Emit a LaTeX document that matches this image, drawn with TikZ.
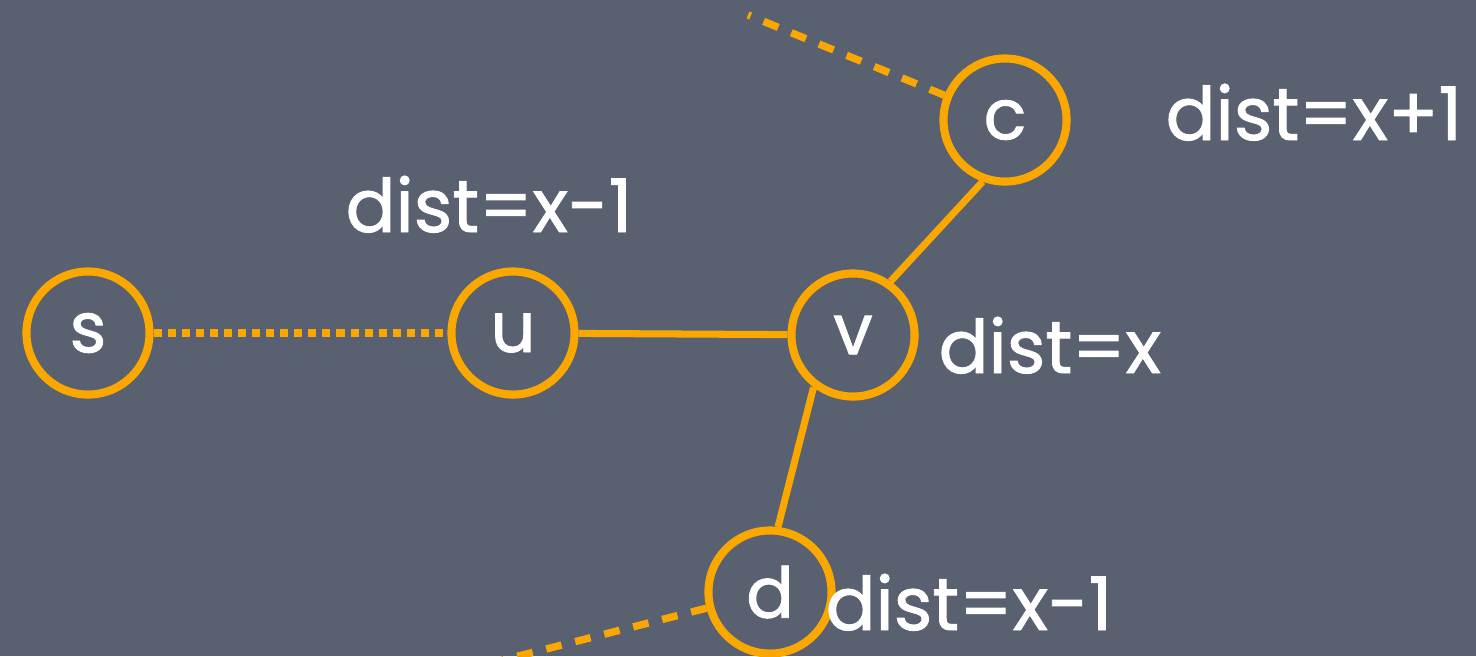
\documentclass[tikz,border=0pt]{standalone}
\usepackage{fontspec}
\setmainfont{Poppins}
\newfontfamily\chalkfont{Poppins}[FakeBold=1.2]
\usetikzlibrary{positioning}
\definecolor{slate}{RGB}{89,97,112}
\definecolor{vorange}{RGB}{250,168,0}

\begin{document}
\begin{tikzpicture}[
    x=0.01cm, y=-0.01cm,
    vertex/.style={draw=vorange, circle, line width=2.3pt, minimum size=1.23cm, inner sep=0pt, text=white, font=\chalkfont\fontsize{20}{24}\selectfont},
    edge/.style={draw=vorange, line width=2pt},
    dottededge/.style={draw=vorange, line width=2.3pt, dash pattern=on 2.3pt off 1.7pt},
    dashededge/.style={draw=vorange, line width=2.1pt, dash pattern=on 4.5pt off 4pt},
    distlabel/.style={anchor=base west, inner sep=0pt, text=white, font=\chalkfont\fontsize{21}{25}\selectfont}
]

\fill[slate] (0,0) rectangle (1476,656);
\useasboundingbox (0,0) rectangle (1476,656);

\node[vertex] (s) at (88,333) {s};
\node[vertex] (u) at (513,333) {u};
\node[vertex] (v) at (853,335) {v};
\node[vertex] (c) at (1005,120) {c};
\node[vertex] (d) at (770,592) {d};

\coordinate (cfar) at (748,15);
\coordinate (dfar) at (495,662);

\draw[dottededge] (s) -- (u);
\draw[edge] (u) -- (v);
\draw[edge] (v.55) -- (c.250);
\draw[edge] (v.233) -- (d.83);
\draw[dashededge] (c) -- (cfar);
\draw[dashededge] (d) -- (dfar);

\node[distlabel] (ulabel) at (345,232) {dist=x-1};
\node[distlabel] (vlabel) at (938,373) {dist=x};
\node[distlabel] (clabel) at (1165,140) {dist=x+1};
\node[distlabel] (dlabel) at (825,630) {dist=x-1};

\end{tikzpicture}
\end{document}
